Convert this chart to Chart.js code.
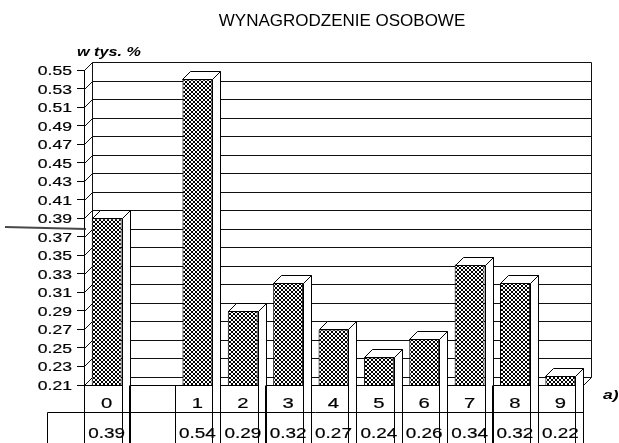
<!DOCTYPE html>
<html>
<head>
<meta charset="utf-8">
<script src="https://cdn.jsdelivr.net/npm/chart.js@4"></script>
<style>
html,body{margin:0;padding:0;background:#fff;}
canvas{display:block;}
</style>
</head>
<body>
<canvas id="c" width="619" height="443"></canvas>
<script>
const titleText = 'WYNAGRODZENIE OSOBOWE';
const unitLabel = 'w tys. %';
const sideLabel = 'a)';
const categories = ['0', '', '1', '2', '3', '4', '5', '6', '7', '8', '9'];
const values = [0.39, null, 0.54, 0.29, 0.32, 0.27, 0.24, 0.26, 0.34, 0.32, 0.22];
const tableValues = ['0.39', '', '0.54', '0.29', '0.32', '0.27', '0.24', '0.26', '0.34', '0.32', '0.22'];
const yMin = 0.21, yMax = 0.55, yStep = 0.02;

const DX = 8, DY = -8;
const SX = 1.35;
const FONT = '"Liberation Sans", Arial, sans-serif';

// crosshatch pattern
const pc = document.createElement('canvas');
pc.width = 4; pc.height = 4;
const pctx = pc.getContext('2d');
pctx.fillStyle = '#fff'; pctx.fillRect(0, 0, 4, 4);
pctx.fillStyle = '#000';
for (let i = 0; i < 4; i++) { pctx.fillRect(i, i, 1, 1); pctx.fillRect(3 - i, i, 1, 1); }
const canvas = document.getElementById('c');
const hatch = canvas.getContext('2d').createPattern(pc, 'repeat');

function line(ctx, x1, y1, x2, y2) {
  ctx.beginPath(); ctx.moveTo(x1, y1); ctx.lineTo(x2, y2); ctx.stroke();
}
function wideText(ctx, text, x, y, align, baseline, bold) {
  ctx.save();
  ctx.translate(x, y);
  ctx.scale(SX, 1);
  ctx.textAlign = align;
  ctx.textBaseline = baseline;
  ctx.fillText(text, 0, 0);
  if (bold) { ctx.lineWidth = bold; ctx.strokeStyle = '#000'; ctx.strokeText(text, 0, 0); }
  ctx.restore();
}

const threeD = {
  id: 'threeD',
  beforeDatasetsDraw(chart) {
    const ctx = chart.ctx, a = chart.chartArea, y = chart.scales.y;
    ctx.save();
    ctx.strokeStyle = '#111';
    ctx.lineWidth = 1;
    const L = a.left + 0.5, R = a.right + DX + 0.5;
    y.ticks.forEach(t => {
      const py = Math.round(y.getPixelForValue(t.value)) + 0.5;
      line(ctx, L + DX, py + DY, R, py + DY);
      line(ctx, L, py, L + DX, py + DY);
    });
    const top = Math.round(y.getPixelForValue(yMax)) + 0.5;
    const bot = Math.round(y.getPixelForValue(yMin)) + 0.5;
    line(ctx, L + DX, top + DY, L + DX, bot + DY);
    line(ctx, R, top + DY, R, bot + DY);
    line(ctx, a.right + 0.5, bot, R, bot + DY);
    ctx.restore();
  },
  afterDatasetsDraw(chart) {
    const ctx = chart.ctx;
    const meta = chart.getDatasetMeta(0);
    ctx.save();
    ctx.strokeStyle = '#000';
    ctx.fillStyle = '#fff';
    ctx.lineWidth = 1;
    meta.data.forEach((bar, i) => {
      if (values[i] == null) return;
      const p = bar.getProps(['x', 'y', 'base', 'width'], true);
      const x0 = Math.round(p.x - p.width / 2) + 0.5;
      const x1 = Math.round(p.x + p.width / 2) + 0.5;
      const yt = Math.round(p.y) + 0.5;
      const yb = Math.round(p.base) + 0.5;
      ctx.beginPath();
      ctx.moveTo(x0, yt); ctx.lineTo(x0 + DX, yt + DY); ctx.lineTo(x1 + DX, yt + DY); ctx.lineTo(x1, yt); ctx.closePath();
      ctx.fill(); ctx.stroke();
      ctx.beginPath();
      ctx.moveTo(x1, yt); ctx.lineTo(x1 + DX, yt + DY); ctx.lineTo(x1 + DX, yb + DY); ctx.lineTo(x1, yb); ctx.closePath();
      ctx.fill(); ctx.stroke();
    });
    ctx.restore();
  },
  afterDraw(chart) {
    const ctx = chart.ctx, a = chart.chartArea, x = chart.scales.x, y = chart.scales.y;
    ctx.save();
    ctx.strokeStyle = '#000';
    ctx.fillStyle = '#000';
    ctx.lineWidth = 1;
    // y tick labels from the scale
    ctx.font = '13px ' + FONT;
    y.ticks.forEach(t => {
      const py = y.getPixelForValue(t.value);
      wideText(ctx, Number(t.value).toFixed(2), 72, py + 5, 'right', 'alphabetic', 0.2);
    });
    const half = (x.getPixelForValue(1) - x.getPixelForValue(0)) / 2;
    const rowTop = Math.round(a.bottom) + 0.5;
    const rowMid = rowTop + 27;
    const rowEnd = 443;
    line(ctx, 47.5, rowMid, a.right + 0.5, rowMid);
    line(ctx, 47.5, rowMid, 47.5, rowEnd);
    for (let i = 0; i <= categories.length; i++) {
      const bx = Math.round(x.getPixelForValue(0) - half + i * 2 * half) + 0.5;
      line(ctx, bx, rowTop, bx, rowEnd);
    }
    // category row
    ctx.font = '15px ' + FONT;
    x.getLabels().forEach((lab, i) => {
      if (!lab) return;
      wideText(ctx, lab, x.getPixelForValue(i), rowTop + 22, 'center', 'alphabetic', 0.2);
    });
    // values row
    ctx.font = '14px ' + FONT;
    tableValues.forEach((v, i) => {
      if (!v) return;
      wideText(ctx, v, x.getPixelForValue(i), rowMid + 25, 'center', 'alphabetic', 0.2);
    });
    // title
    ctx.font = '17px ' + FONT;
    ctx.textAlign = 'center';
    ctx.textBaseline = 'alphabetic';
    ctx.fillText(titleText, 342, 26);
    // unit label
    ctx.font = 'italic bold 12px ' + FONT;
    wideText(ctx, unitLabel, 77, 56, 'left', 'alphabetic', 0);
    // side label
    ctx.font = 'italic bold 13px ' + FONT;
    wideText(ctx, sideLabel, 603, 399, 'left', 'alphabetic', 0);
    // pen mark (scan artifact)
    ctx.strokeStyle = 'rgba(40,40,40,0.85)';
    ctx.lineWidth = 2;
    line(ctx, 5, 227, 86, 229);
    ctx.restore();
  }
};

new Chart(canvas, {
  type: 'bar',
  data: {
    labels: categories,
    datasets: [{
      data: values,
      backgroundColor: hatch,
      borderColor: '#000',
      borderWidth: 1,
      borderSkipped: false,
      barPercentage: 0.66,
      categoryPercentage: 1.0
    }]
  },
  options: {
    responsive: false,
    animation: false,
    events: [],
    layout: { padding: { top: 70, right: 36, left: 0, bottom: 0 } },
    plugins: { legend: { display: false }, title: { display: false }, tooltip: { enabled: false } },
    scales: {
      x: {
        grid: { display: false, drawTicks: false },
        border: { display: true, color: '#000', width: 1 },
        ticks: { display: false, autoSkip: false },
        afterFit(s) { s.height = 58; }
      },
      y: {
        min: yMin, max: yMax,
        beginAtZero: false,
        grid: { drawOnChartArea: false, drawTicks: true, tickLength: 7, color: '#000' },
        border: { display: true, color: '#000', width: 1 },
        ticks: { display: false, stepSize: yStep, maxTicksLimit: 100, autoSkip: false },
        afterFit(s) { s.width = 84; }
      }
    }
  },
  plugins: [threeD]
});
</script>
</body>
</html>
